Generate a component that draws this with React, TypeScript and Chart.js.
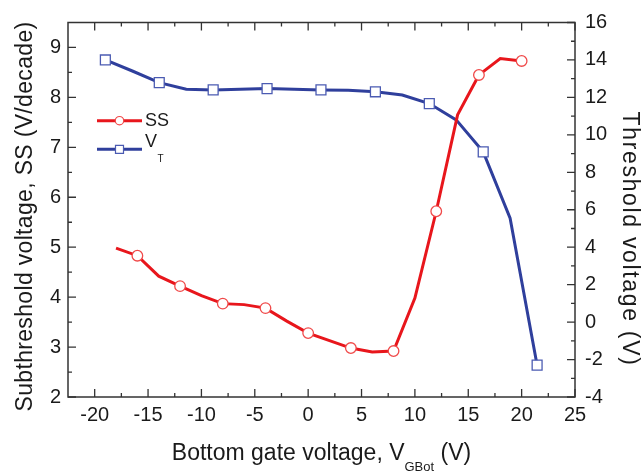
import React, { useEffect, useRef } from 'react';
import { Chart, registerables } from 'chart.js';

Chart.register(...registerables);

// ---- data ----
const ssX = [-18, -16, -14, -12, -10, -8, -6, -4, -2, 0, 2, 4, 6, 8, 10, 12, 14, 16, 18, 20];
const ssY = [4.98, 4.83, 4.42, 4.22, 4.03, 3.87, 3.85, 3.78, 3.52, 3.28, 3.13, 2.98, 2.9, 2.92, 3.98, 5.72, 7.65, 8.45, 8.78, 8.73];
const ssMarker = [false, true, false, true, false, true, false, true, false, true, false, true, false, true, false, true, false, true, false, true];

const vtX = [-19, -16.47, -13.95, -11.42, -8.9, -6.37, -3.85, -1.32, 1.2, 3.75, 6.3, 8.82, 11.35, 13.87, 16.4, 18.92, 21.45];
const vtY = [14.0, 13.41, 12.79, 12.44, 12.4, 12.43, 12.47, 12.43, 12.4, 12.38, 12.3, 12.13, 11.67, 10.8, 9.09, 5.55, -2.3];
const vtMarker = [true, false, true, false, true, false, true, false, true, false, true, false, true, false, true, false, true];

const xTicks = [-20, -15, -10, -5, 0, 5, 10, 15, 20, 25];
const xMinor = [-17.5, -12.5, -7.5, -2.5, 2.5, 7.5, 12.5, 17.5, 22.5];
const leftTicks = [2, 3, 4, 5, 6, 7, 8, 9];
const leftMinor = [2.5, 3.5, 4.5, 5.5, 6.5, 7.5, 8.5];
const rightTicks = [-4, -2, 0, 2, 4, 6, 8, 10, 12, 14, 16];
const rightMinor = [-3, -1, 1, 3, 5, 7, 9, 11, 13, 15];

const seriesNames = ['SS', 'V', 'T'];
const xTitle = ['Bottom gate voltage, V', 'GBot', ' (V)'];
const leftTitle = 'Subthreshold voltage, SS (V/decade)';
const rightTitle = 'Threshold voltage (V)';

const RED = '#e8161c';
const RED_MK = '#f04a4a';
const BLUE = '#2f3f9c';
const BLUE_MK = '#4b5bb2';
const FONT = '"Liberation Sans", Arial, sans-serif';
const INK = '#1a1a1a';

const framePlugin = {
  id: 'frame',
  beforeDatasetsDraw(chart: any) {
    const { ctx, chartArea: a, scales } = chart;
    const x = scales.x, yl = scales.y, yr = scales.y2;
    ctx.save();
    ctx.strokeStyle = '#333';
    ctx.lineWidth = 1.5;
    ctx.strokeRect(a.left, a.top, a.right - a.left, a.bottom - a.top);
    ctx.lineWidth = 1.3;
    ctx.beginPath();
    const maj = 8, min = 4;
    xTicks.forEach((v) => {
      const p = x.getPixelForValue(v);
      ctx.moveTo(p, a.bottom); ctx.lineTo(p, a.bottom - maj);
      ctx.moveTo(p, a.top); ctx.lineTo(p, a.top + maj);
    });
    xMinor.forEach((v) => {
      const p = x.getPixelForValue(v);
      ctx.moveTo(p, a.bottom); ctx.lineTo(p, a.bottom - min);
      ctx.moveTo(p, a.top); ctx.lineTo(p, a.top + min);
    });
    leftTicks.forEach((v) => {
      const p = yl.getPixelForValue(v);
      ctx.moveTo(a.left, p); ctx.lineTo(a.left + maj, p);
    });
    leftMinor.forEach((v) => {
      const p = yl.getPixelForValue(v);
      ctx.moveTo(a.left, p); ctx.lineTo(a.left + min, p);
    });
    rightTicks.forEach((v) => {
      const p = yr.getPixelForValue(v);
      ctx.moveTo(a.right, p); ctx.lineTo(a.right - maj, p);
    });
    rightMinor.forEach((v) => {
      const p = yr.getPixelForValue(v);
      ctx.moveTo(a.right, p); ctx.lineTo(a.right - min, p);
    });
    ctx.stroke();
    ctx.restore();
  },
  afterDraw(chart: any) {
    const { ctx, chartArea: a } = chart;
    ctx.save();
    ctx.fillStyle = INK;
    // left title
    ctx.font = `23px ${FONT}`;
    {
      const w = ctx.measureText(leftTitle).width;
      const target = 390;
      (ctx as any).letterSpacing = `${(target - w) / leftTitle.length}px`;
      ctx.save();
      ctx.translate(31.5, 216.5);
      ctx.rotate(-Math.PI / 2);
      ctx.textAlign = 'center';
      ctx.textBaseline = 'alphabetic';
      ctx.fillText(leftTitle, 0, 0);
      ctx.restore();
    }
    {
      (ctx as any).letterSpacing = '0px';
      const w = ctx.measureText(rightTitle).width;
      const target = 255;
      (ctx as any).letterSpacing = `${(target - w) / rightTitle.length}px`;
      ctx.save();
      ctx.translate(623, 239);
      ctx.rotate(Math.PI / 2);
      ctx.textAlign = 'center';
      ctx.textBaseline = 'alphabetic';
      ctx.fillText(rightTitle, 0, 0);
      ctx.restore();
      (ctx as any).letterSpacing = '0px';
    }
    // bottom title with subscript
    {
      ctx.textAlign = 'left';
      ctx.textBaseline = 'alphabetic';
      ctx.font = `23px ${FONT}`;
      const w1 = ctx.measureText(xTitle[0]).width;
      const w3 = ctx.measureText(xTitle[2]).width;
      ctx.font = `13px ${FONT}`;
      const w2 = ctx.measureText(xTitle[1]).width;
      const total = w1 + w2 + w3;
      let sx = (a.left + a.right) / 2 - total / 2;
      ctx.font = `23px ${FONT}`;
      ctx.fillText(xTitle[0], sx, 460);
      sx += w1;
      ctx.font = `13px ${FONT}`;
      ctx.fillText(xTitle[1], sx, 470.5);
      sx += w2;
      ctx.font = `23px ${FONT}`;
      ctx.fillText(xTitle[2], sx, 460);
    }
    // legend
    {
      const lx0 = 97, lx1 = 142, mx = 119.5;
      const y1 = 120.7, y2 = 149.3;
      ctx.lineWidth = 3;
      ctx.strokeStyle = RED;
      ctx.beginPath(); ctx.moveTo(lx0, y1); ctx.lineTo(lx1, y1); ctx.stroke();
      ctx.fillStyle = '#fff';
      ctx.strokeStyle = RED_MK;
      ctx.lineWidth = 1.2;
      ctx.beginPath(); ctx.arc(mx, y1, 4.2, 0, Math.PI * 2); ctx.fill(); ctx.stroke();
      ctx.lineWidth = 3;
      ctx.strokeStyle = BLUE;
      ctx.beginPath(); ctx.moveTo(lx0, y2); ctx.lineTo(lx1, y2); ctx.stroke();
      ctx.fillStyle = '#fff';
      ctx.strokeStyle = BLUE_MK;
      ctx.lineWidth = 1.2;
      ctx.beginPath(); ctx.rect(mx - 4, y2 - 4, 8, 8); ctx.fill(); ctx.stroke();
      ctx.fillStyle = INK;
      ctx.textAlign = 'left';
      ctx.textBaseline = 'alphabetic';
      ctx.font = `18px ${FONT}`;
      ctx.fillText(seriesNames[0], 145, 126);
      ctx.fillText(seriesNames[1], 145, 146.5);
      const vw = ctx.measureText(seriesNames[1]).width;
      ctx.font = `10px ${FONT}`;
      ctx.fillText(seriesNames[2], 145 + vw + 0.5, 162);
    }
    ctx.restore();
  },
};

const tickFont = { family: FONT, size: 20 };

export default function App() {
  const ref = useRef<HTMLCanvasElement | null>(null);
  useEffect(() => {
    if (!ref.current) return;
    const chart = new Chart(ref.current, {
      type: 'line',
      data: {
        datasets: [
          {
            label: 'SS',
            data: ssX.map((x, i) => ({ x, y: ssY[i] })),
            yAxisID: 'y',
            borderColor: RED,
            borderWidth: 3,
            pointRadius: ssMarker.map((m) => (m ? 5.3 : 0)),
            pointHoverRadius: 0,
            pointStyle: 'circle',
            pointBackgroundColor: '#fff',
            pointBorderColor: RED_MK,
            pointBorderWidth: 1.3,
            tension: 0,
            fill: false,
          },
          {
            label: 'VT',
            data: vtX.map((x, i) => ({ x, y: vtY[i] })),
            yAxisID: 'y2',
            borderColor: BLUE,
            borderWidth: 3,
            pointRadius: vtMarker.map((m) => (m ? 7 : 0)),
            pointHoverRadius: 0,
            pointStyle: 'rect',
            pointBackgroundColor: '#fff',
            pointBorderColor: BLUE_MK,
            pointBorderWidth: 1.3,
            tension: 0,
            fill: false,
          },
        ],
      },
      options: {
        animation: false,
        responsive: false,
        events: [],
        layout: { padding: { top: 22.5, left: 0, right: 0, bottom: 0 } },
        plugins: { legend: { display: false }, tooltip: { enabled: false } },
        scales: {
          x: {
            type: 'linear',
            position: 'bottom',
            min: -22.5,
            max: 25,
            afterBuildTicks: (s: any) => { s.ticks = xTicks.map((v) => ({ value: v })); },
            afterFit: (s: any) => { s.height = 74; },
            grid: { display: false, drawTicks: false },
            border: { display: false },
            ticks: { font: tickFont, color: INK, padding: 6, maxRotation: 0, autoSkip: false },
          },
          y: {
            type: 'linear',
            position: 'left',
            min: 2,
            max: 9.5,
            afterBuildTicks: (s: any) => { s.ticks = leftTicks.map((v) => ({ value: v })); },
            afterFit: (s: any) => { s.width = 68; },
            grid: { display: false, drawTicks: false },
            border: { display: false },
            ticks: { font: tickFont, color: INK, padding: 7, autoSkip: false },
          },
          y2: {
            type: 'linear',
            position: 'right',
            min: -4,
            max: 16,
            afterBuildTicks: (s: any) => { s.ticks = rightTicks.map((v) => ({ value: v })); },
            afterFit: (s: any) => { s.width = 67; },
            grid: { display: false, drawTicks: false },
            border: { display: false },
            ticks: { font: tickFont, color: INK, padding: 10, autoSkip: false },
          },
        },
      } as any,
      plugins: [framePlugin],
    });
    return () => chart.destroy();
  }, []);
  return (
    <div style={{ position: 'fixed', left: 0, top: 0, width: 642, height: 471, background: '#fff' }}>
      <canvas ref={ref} width={642} height={471} />
    </div>
  );
}
